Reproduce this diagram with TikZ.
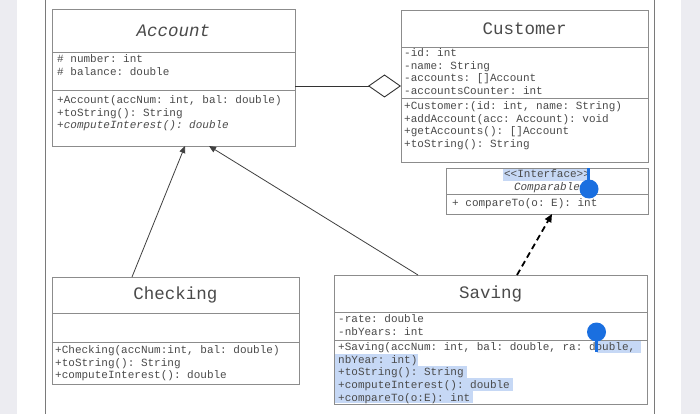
\documentclass[tikz,border=0pt]{standalone}
\usepackage{fontspec}
\setmonofont{Liberation Mono}
\usetikzlibrary{arrows.meta,positioning,calc}
\definecolor{boxline}{HTML}{8C8C8C}
\definecolor{txtgray}{HTML}{4A4A4A}
\definecolor{selblue}{HTML}{C6D8F5}
\definecolor{handleblue}{HTML}{1A6FE0}
\definecolor{sidegray}{HTML}{ECECF1}
\definecolor{framegray}{HTML}{7A7A7A}

\begin{document}
\begin{tikzpicture}[x=1pt, y=1pt, comp/.style={draw=boxline, line width=0.9pt, inner sep=0pt, outer sep=0pt, anchor=north west}, titlebox/.style={comp, text=txtgray, align=center, font=\ttfamily\fontsize{17.5pt}{20pt}\selectfont}, mem/.style={anchor=north west, inner sep=0pt, align=left, text=txtgray, font=\ttfamily\fontsize{11pt}{12.6pt}\selectfont}, inh/.style={-{Triangle[length=7pt,width=6pt]}, draw=black!75, line width=0.8pt}, real/.style={-{Triangle[length=8pt,width=7pt]}, draw=black, line width=1.8pt, dash pattern=on 6pt off 4pt}, agg/.style={-{Diamond[open,length=33pt,width=23pt]}, draw=black!80, line width=0.9pt}, hl/.style={fill=selblue}, handle/.style={fill=handleblue}]
\useasboundingbox[fill=white] (0,0) rectangle (700,-414);
% page edges
\fill[sidegray] (0,0) rectangle (17,-414);
\fill[sidegray] (681,0) rectangle (700,-414);
\draw[framegray, line width=1pt] (45,0) -- (45,-414);
\draw[framegray, line width=1pt] (654,0) -- (654,-414);
% selected text
\fill[hl] (503,-169) rectangle (588,-181);
\fill[hl] (597,-341) rectangle (641,-353);
\fill[hl] (335,-354) rectangle (418,-366);
\fill[hl] (335,-366) rectangle (467,-378);
\fill[hl] (335,-378) rectangle (513,-391);
\fill[hl] (335,-391) rectangle (473,-403);
% Account
\node[titlebox, minimum width=243pt, minimum height=43pt] (acct) at (52,-9) {\textit{Account}};
\node[comp, minimum width=243pt, minimum height=38pt, below=0pt of acct] (acca) {};
\node[comp, minimum width=243pt, minimum height=56pt, below=0pt of acca] (accm) {};
\node[mem] (accattr) at ([shift={(5pt,-2.5pt)}]acca.north west) {\# number: int\\\# balance: double};
\node[mem] (accmeth) at ([shift={(5pt,-5.5pt)}]accm.north west) {+Account(accNum: int, bal: double)\\+toString(): String\\\textit{+computeInterest(): double}};
% Customer
\node[titlebox, minimum width=247pt, minimum height=37pt] (cust) at (401,-10) {Customer};
\node[comp, minimum width=247pt, minimum height=51pt, below=0pt of cust] (cusa) {};
\node[comp, minimum width=247pt, minimum height=64pt, below=0pt of cusa] (cusm) {};
\node[mem] (cusattr) at ([shift={(3pt,-1.5pt)}]cusa.north west) {-id: int\\-name: String\\-accounts: []Account\\-accountsCounter: int};
\node[mem] (cusmeth) at ([shift={(3pt,-3.5pt)}]cusm.north west) {+Customer:(id: int, name: String)\\+addAccount(acc: Account): void\\+getAccounts(): []Account\\+toString(): String};
% Comparable
\node[titlebox, minimum width=202pt, minimum height=26pt, font=\ttfamily\fontsize{11pt}{13pt}\selectfont] (itft) at (446,-168) {<<Interface>>\\\textit{Comparable}};
\node[comp, minimum width=202pt, minimum height=20pt, below=0pt of itft] (itfm) {};
\node[mem] (itfmeth) at ([shift={(6pt,-4.5pt)}]itfm.north west) {+ compareTo(o: E): int};
% Checking
\node[titlebox, minimum width=247pt, minimum height=36pt] (chkt) at (52,-277) {Checking};
\node[comp, minimum width=247pt, minimum height=29pt, below=0pt of chkt] (chka) {};
\node[comp, minimum width=247pt, minimum height=42pt, below=0pt of chka] (chkm) {};
\node[mem] (chkmeth) at ([shift={(3pt,-3.5pt)}]chkm.north west) {+Checking(accNum:int, bal: double)\\+toString(): String\\+computeInterest(): double};
% Saving
\node[titlebox, minimum width=313pt, minimum height=37pt] (savt) at (334,-275) {Saving};
\node[comp, minimum width=313pt, minimum height=28pt, below=0pt of savt] (sava) {};
\node[comp, minimum width=313pt, minimum height=64pt, below=0pt of sava] (savm) {};
\node[mem] (savattr) at ([shift={(4pt,-2.5pt)}]sava.north west) {-rate: double\\-nbYears: int};
\node[mem] (savmeth) at ([shift={(4pt,-2.5pt)}]savm.north west) {+Saving(accNum: int, bal: double, ra: double,\\nbYear: int)\\+toString(): String\\+computeInterest(): double\\+compareTo(o:E): int};
% relations
\draw[agg] ([yshift=4pt]acca.south east) -- ([yshift=12pt]cusa.south west);
\draw[inh] ([xshift=80pt]chkt.north west) -- ([xshift=133pt]accm.south west);
\draw[inh] ([xshift=84pt]savt.north west) -- ([xshift=157pt]accm.south west);
\draw[real] ([xshift=183pt]savt.north west) -- ([xshift=106pt]itfm.south west);
% selection handles
\fill[handle] (586.5,-168) rectangle (589.5,-189);
\fill[handle] (589,-189) circle[radius=9.5];
\fill[handle] (594.5,-332) rectangle (597.5,-352);
\fill[handle] (596.5,-332) circle[radius=9.5];
\end{tikzpicture}
\end{document}
